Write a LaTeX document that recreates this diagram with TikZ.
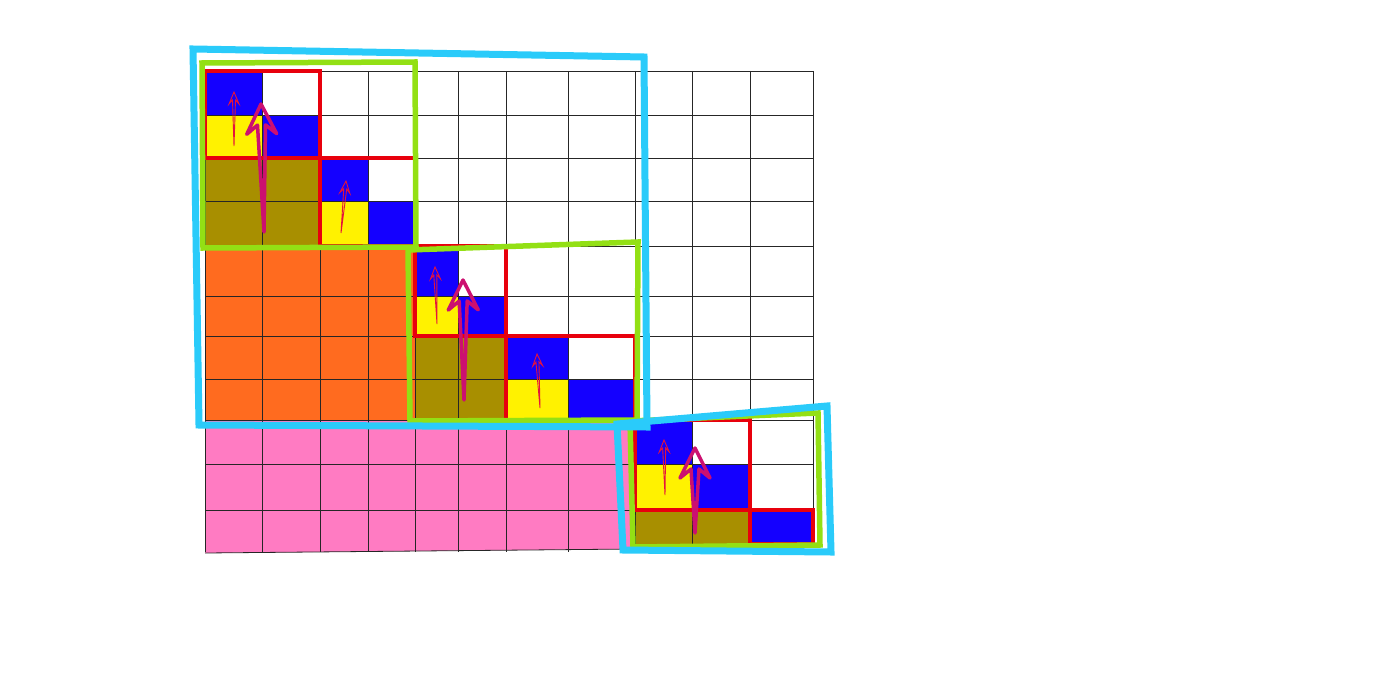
\documentclass[tikz,border=0pt]{standalone}
\usepackage{tikz}
\usetikzlibrary{calc}

\definecolor{cellblue}{HTML}{1400FF}
\definecolor{cellyellow}{HTML}{FFF200}
\definecolor{cellolive}{HTML}{A88F00}
\definecolor{cellorange}{HTML}{FF6B1F}
\definecolor{cellpink}{HTML}{FF7BC2}
\definecolor{boxred}{HTML}{E8000D}
\definecolor{boxgreen}{HTML}{93E014}
\definecolor{boxcyan}{HTML}{2ACBFA}
\definecolor{arrowmag}{HTML}{CC1070}
\definecolor{arrowred}{HTML}{E5143C}

% grid boundaries (pixels)
\def\colx{{205,262,320,368,415,458,506,568,635,692,750,813}}
\def\rowy{{71,115,158,201,246,296,336,379,420,464,510,544}}

% block of cells from grid index (#1,#2) to (#3,#4)
\newcommand{\cells}[5]{%
  \pgfmathsetmacro\xa{\colx[#1]}\pgfmathsetmacro\ya{\rowy[#2]}%
  \pgfmathsetmacro\xb{\colx[#3]}\pgfmathsetmacro\yb{\rowy[#4]}%
  \path[#5] (\xa,\ya) rectangle (\xb,\yb);}

% hollow arrow: style, base, tip, head length, head half width, notch, stem half width
\newcommand{\openarrow}[7]{%
  \coordinate (tp) at #3; \coordinate (bs) at #2;
  \coordinate (wc) at ($(tp)!#4pt!(bs)$);
  \coordinate (nc) at ($(tp)!#6pt!(bs)$);
  \draw[#1] (bs) -- ($(nc)!#7pt!90:(tp)$) -- ($(wc)!#5pt!90:(tp)$) -- (tp)
    -- ($(wc)!#5pt!-90:(tp)$) -- ($(nc)!#7pt!-90:(tp)$) -- cycle;}

\begin{document}
\begin{tikzpicture}[x=1pt, y=-1pt,
  gridline/.style={draw=black!85, line width=0.8pt},
  redbox/.style={draw=boxred, line width=3.5pt},
  greenbox/.style={draw=boxgreen, line width=5.5pt, line join=miter},
  cyanbox/.style={draw=boxcyan, line width=7pt, line join=miter},
  bigarrow/.style={draw=arrowmag, line width=3.5pt, line join=round},
  smallarrow/.style={draw=arrowred, line width=0.9pt, line join=miter}]
\useasboundingbox (0,0) rectangle (1375,679);

% coloured cells
\cells{0}{4}{4}{8}{fill=cellorange}
\fill[cellpink] (205,420) -- (635,420) -- (635,549) -- (205,553) -- cycle;
\cells{0}{2}{2}{4}{fill=cellolive}
\cells{4}{6}{6}{8}{fill=cellolive}
\cells{8}{10}{10}{11}{fill=cellolive}
\foreach \i in {0,...,10} {\cells{\i}{\i}{\i+1}{\i+1}{fill=cellblue}}
\foreach \i in {0,2,4,6,8} {\cells{\i}{\i+1}{\i+1}{\i+2}{fill=cellyellow}}

% grid
\foreach \x in {205,262,320,368,415,458,506,568}
  \draw[gridline] (\x,71) -- (\x,552);
\foreach \x in {635,692,750,813}
  \draw[gridline] (\x,71) -- (\x,546);
\foreach \y in {71,115,158,201,246,296,336,379,420,464,510}
  \draw[gridline] (205,\y) -- (813,\y);
\draw[gridline] (205,553) -- (635,549) -- (813,545);

% red blocks
\cells{0}{0}{2}{2}{redbox}
\cells{2}{2}{4}{4}{redbox}
\cells{4}{4}{6}{6}{redbox}
\cells{6}{6}{8}{8}{redbox}
\cells{8}{8}{10}{10}{redbox}
\cells{10}{10}{11}{11}{redbox}

% green blocks
\draw[greenbox] (202,63) -- (415,62) -- (416,247) -- (203,248) -- cycle;
\draw[greenbox] (408,250) -- (638,242) -- (637,420) -- (410,421) -- cycle;
\draw[greenbox] (630,421) -- (818,413) -- (820,545) -- (633,547) -- cycle;

% cyan blocks
\draw[cyanbox] (193,49) -- (644,57) -- (647,427) -- (199,425) -- cycle;
\draw[cyanbox] (617,424) -- (827,406) -- (831,552) -- (623,550) -- cycle;

% small arrows
\openarrow{smallarrow}{(234,146)}{(234,92)}{12}{5}{8}{1.5}
\openarrow{smallarrow}{(341,233)}{(346,181)}{12}{5}{8}{1.5}
\openarrow{smallarrow}{(437,324)}{(435,267)}{12}{5}{8}{1.5}
\openarrow{smallarrow}{(540,408)}{(537,354)}{12}{5}{8}{1.5}
\openarrow{smallarrow}{(665,495)}{(664,440)}{12}{5}{8}{1.5}

% big arrows
\openarrow{bigarrow}{(264,232)}{(261,104)}{30}{15}{21}{4}
\openarrow{bigarrow}{(464,400)}{(463,280)}{30}{15}{21}{4}
\openarrow{bigarrow}{(695,533)}{(695,448)}{30}{15}{21}{4}
\end{tikzpicture}
\end{document}
